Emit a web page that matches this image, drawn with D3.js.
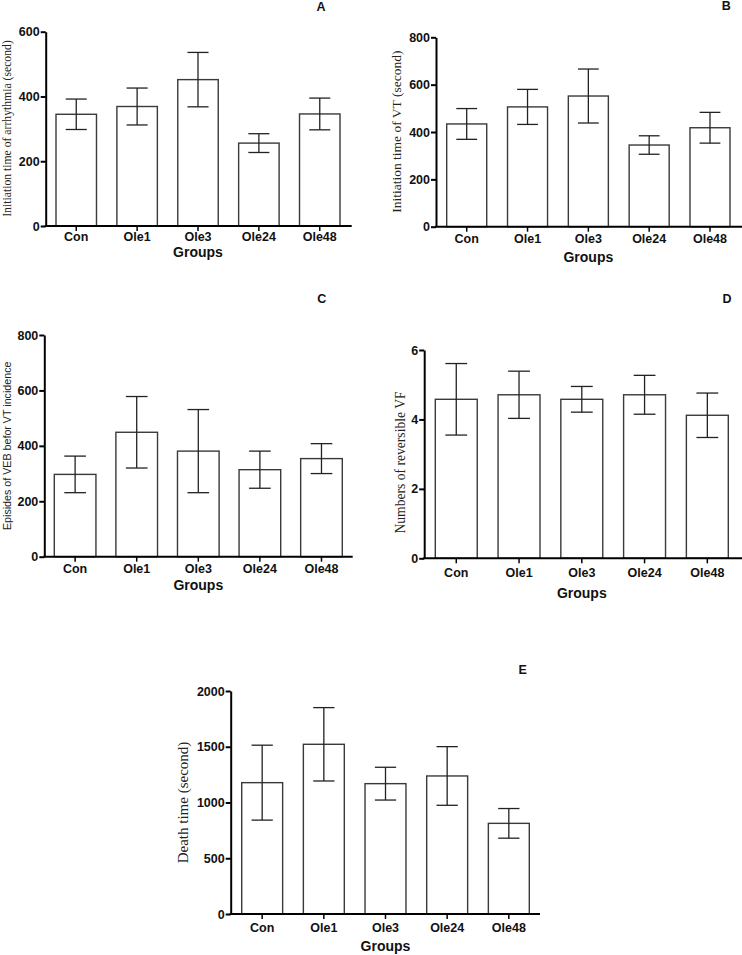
<!DOCTYPE html>
<html>
<head>
<meta charset="utf-8">
<script src="https://cdn.jsdelivr.net/npm/d3@7/dist/d3.min.js"></script>
<style>
  html, body { margin: 0; padding: 0; background: #fff; }
  svg { display: block; }
  .tick text { font-family: Arial, "Liberation Sans", sans-serif; font-weight: bold; fill: #111; }
</style>
</head>
<body>
<svg id="chart" width="742" height="955"></svg>
<script>
// ---- data ----
const categories = ["Con", "Ole1", "Ole3", "Ole24", "Ole48"];

const meansA = [345, 369, 452, 256, 346];
const errorsA = [47, 57, 84, 29, 49];
const ticksA = [0, 200, 400, 600];

const meansB = [434, 506, 552, 345, 418];
const errorsB = [65, 74, 114, 39, 65];
const ticksB = [0, 200, 400, 600, 800];

const meansC = [297, 449, 381, 314, 354];
const errorsC = [66, 129, 150, 67, 54];
const ticksC = [0, 200, 400, 600, 800];

const meansD = [4.58, 4.71, 4.58, 4.71, 4.12];
const errorsD = [1.03, 0.68, 0.37, 0.56, 0.64];
const ticksD = [0, 2, 4, 6];

const meansE = [1178, 1522, 1169, 1238, 813];
const errorsE = [336, 329, 147, 263, 133];
const ticksE = [0, 500, 1000, 1500, 2000];

const xTitle = "Groups";

// ---- layout ----
const panels = [
  { letter: "A", means: meansA, errors: errorsA, ticks: ticksA,
    title: "Initiation time of arrhythmia (second)", titleFont: "'Liberation Serif','Times New Roman',serif", titleSize: 11.7,
    titleX: 7.5, titleY: 128.5,
    axisX0: 45.7, axisX1: 351.7, band0: 56, band1: 340, pad: 0.335, yTop: 31.7, yBot: 226, xPad: 1.5, groupsY: 252,
    letterX: 321, letterY: 10.5 },
  { letter: "B", means: meansB, errors: errorsB, ticks: ticksB,
    title: "Initiation time of VT (second)", titleFont: "'Liberation Serif','Times New Roman',serif", titleSize: 13.5,
    titleX: 396.7, titleY: 131.7,
    axisX0: 436, axisX1: 742, band0: 446.7, band1: 730, pad: 0.342, yTop: 37.3, yBot: 226.7, xPad: 2.8, groupsY: 256.7,
    letterX: 726.3, letterY: 10.2 },
  { letter: "C", means: meansC, errors: errorsC, ticks: ticksC,
    title: "Episides of VEB befor VT incidence", titleFont: "Arial,'Liberation Sans',sans-serif", titleSize: 10.7,
    titleX: 7.3, titleY: 445.8,
    axisX0: 44.3, axisX1: 352.7, band0: 54.3, band1: 342.3, pad: 0.324, yTop: 335, yBot: 556.7, xPad: 2.1, groupsY: 585,
    letterX: 321.7, letterY: 303.2 },
  { letter: "D", means: meansD, errors: errorsD, ticks: ticksD,
    title: "Numbers of reversible VF", titleFont: "'Liberation Serif','Times New Roman',serif", titleSize: 13.6,
    titleX: 400, titleY: 462.5,
    axisX0: 424.2, axisX1: 742, band0: 435.3, band1: 728.3, pad: 0.332, yTop: 350, yBot: 558.3, xPad: 4.9, groupsY: 592.7,
    letterX: 727, letterY: 303.2 },
  { letter: "E", means: meansE, errors: errorsE, ticks: ticksE,
    title: "Death time (second)", titleFont: "'Liberation Serif','Times New Roman',serif", titleSize: 15,
    titleX: 183.3, titleY: 802.5,
    axisX0: 230.7, axisX1: 540, band0: 241.7, band1: 529.3, pad: 0.336, yTop: 691, yBot: 914, xPad: 3.8, groupsY: 946,
    letterX: 522.7, letterY: 673.5 }
];

const svg = d3.select("#chart");

panels.forEach(p => {
  const g = svg.append("g");
  const maxTick = d3.max(p.ticks);
  const y = d3.scaleLinear().domain([0, maxTick]).range([p.yBot, p.yTop]);
  const x = d3.scaleBand().domain(categories).range([p.band0, p.band1])
    .paddingInner(p.pad).paddingOuter(0);

  const data = categories.map((c, i) => ({ c, m: p.means[i], e: p.errors[i] }));

  // bars
  g.selectAll("rect.bar").data(data).join("rect")
    .attr("class", "bar")
    .attr("x", d => x(d.c))
    .attr("y", d => y(d.m))
    .attr("width", x.bandwidth())
    .attr("height", d => y(0) - y(d.m))
    .attr("fill", "#fff")
    .attr("stroke", "#3a3a3a")
    .attr("stroke-width", 1.4);

  // error bars
  const capW = x.bandwidth() * 0.26;
  const eb = g.selectAll("g.err").data(data).join("g").attr("class", "err")
    .attr("stroke", "#222").attr("stroke-width", 1.3).attr("fill", "none");
  eb.append("line")
    .attr("x1", d => x(d.c) + x.bandwidth() / 2).attr("x2", d => x(d.c) + x.bandwidth() / 2)
    .attr("y1", d => y(d.m + d.e)).attr("y2", d => y(d.m - d.e));
  eb.append("line")
    .attr("x1", d => x(d.c) + x.bandwidth() / 2 - capW).attr("x2", d => x(d.c) + x.bandwidth() / 2 + capW)
    .attr("y1", d => y(d.m + d.e)).attr("y2", d => y(d.m + d.e));
  eb.append("line")
    .attr("x1", d => x(d.c) + x.bandwidth() / 2 - capW).attr("x2", d => x(d.c) + x.bandwidth() / 2 + capW)
    .attr("y1", d => y(d.m - d.e)).attr("y2", d => y(d.m - d.e));

  // y axis
  const yAxis = g.append("g").attr("transform", `translate(${p.axisX0},0)`)
    .call(d3.axisLeft(y).tickValues(p.ticks).tickFormat(d3.format("d"))
      .tickSize(5).tickSizeOuter(0).tickPadding(1));
  yAxis.select(".domain").attr("stroke", "#000").attr("stroke-width", 2);
  yAxis.selectAll(".tick line").attr("stroke", "#000").attr("stroke-width", 2);
  yAxis.selectAll(".tick text").style("font-size", "12.5px");

  // x axis
  const xAxis = g.append("g").attr("transform", `translate(0,${p.yBot})`)
    .call(d3.axisBottom(x).tickSize(5).tickSizeOuter(0).tickPadding(p.xPad));
  xAxis.select(".domain").remove();
  xAxis.selectAll(".tick line").attr("stroke", "#000").attr("stroke-width", 1.5);
  xAxis.selectAll(".tick text").style("font-size", "12.5px");
  g.append("line")
    .attr("x1", p.axisX0 - 1).attr("x2", p.axisX1)
    .attr("y1", p.yBot).attr("y2", p.yBot)
    .attr("stroke", "#000").attr("stroke-width", 2);

  // x title
  g.append("text")
    .attr("x", (p.band0 + p.band1) / 2)
    .attr("y", p.groupsY + 5)
    .attr("text-anchor", "middle")
    .style("font-family", "Arial,'Liberation Sans',sans-serif")
    .style("font-weight", "bold")
    .style("font-size", "14px")
    .attr("fill", "#111")
    .text(xTitle);

  // y title
  g.append("text")
    .attr("transform", `translate(${p.titleX},${p.titleY}) rotate(-90)`)
    .attr("text-anchor", "middle")
    .attr("dominant-baseline", "central")
    .style("font-family", p.titleFont)
    .style("font-size", p.titleSize + "px")
    .attr("fill", "#222")
    .text(p.title);

  // panel letter
  g.append("text")
    .attr("x", p.letterX).attr("y", p.letterY)
    .attr("text-anchor", "middle")
    .style("font-family", "Arial,'Liberation Sans',sans-serif")
    .style("font-weight", "bold")
    .style("font-size", "12.5px")
    .attr("fill", "#111")
    .text(p.letter);
});
</script>
</body>
</html>
